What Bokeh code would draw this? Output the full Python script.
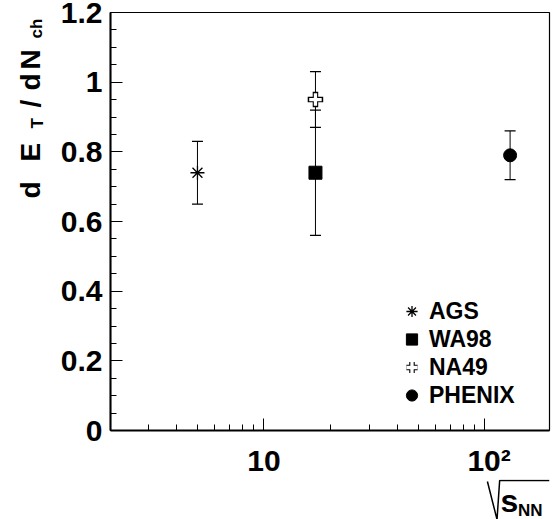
import numpy as np
from bokeh.plotting import figure
from bokeh.layouts import row, column
from bokeh.models import (ColumnDataSource, Whisker, TeeHead, Range1d, FixedTicker,
                          NumeralTickFormatter, Legend, LegendItem)
from bokeh.core.properties import value
from bokeh.embed import file_html
from bokeh.resources import INLINE

# ---- data ----
experiments = ["AGS", "WA98", "NA49", "PHENIX"]
sqrt_snn = [5.0, 17.1, 17.1, 130.0]
et_per_nch = [0.74, 0.74, 0.95, 0.79]
et_err = [0.09, 0.18, 0.08, 0.07]

x_major_ticks = [10, 100]
x_minor_ticks = [3, 4, 5, 6, 7, 8, 9, 20, 30, 40, 50, 60, 70, 80, 90]
x_tick_labels = {10: "10", 100: "\u00a010\u00b2"}
y_major_ticks = [0, 0.2, 0.4, 0.6, 0.8, 1.0, 1.2]
y_minor_ticks = [0.05, 0.1, 0.15, 0.25, 0.3, 0.35, 0.45, 0.5, 0.55, 0.65, 0.7, 0.75,
                 0.85, 0.9, 0.95, 1.05, 1.1, 1.15]

FONT = "Liberation Sans"
W, H = 552, 519
LEFT_W = 50        # width of the y-title strip
MAIN_H = 479       # height of the main figure
FRAME_BOTTOM = 432
MID = 0.3465       # em offset between alphabetic baseline and box middle

# ---------------- main plot ----------------
p = figure(width=W - LEFT_W, height=MAIN_H, x_axis_type="log",
           x_range=Range1d(2.02, 196), y_range=Range1d(0, 1.2),
           output_backend="svg", toolbar_location=None,
           min_border_left=110 - LEFT_W, min_border_right=3, min_border_top=12,
           min_border_bottom=MAIN_H - FRAME_BOTTOM)
p.background_fill_color = "white"
p.border_fill_color = "white"
p.outline_line_color = "black"
p.outline_line_width = 1.2
p.xgrid.visible = False
p.ygrid.visible = False

for ax in (p.xaxis[0], p.yaxis[0]):
    ax.axis_line_color = "black"
    ax.axis_line_width = 2
    ax.major_tick_in = 12
    ax.major_tick_out = 0
    ax.minor_tick_in = 6
    ax.minor_tick_out = 0
    ax.major_tick_line_color = "black"
    ax.minor_tick_line_color = "black"
    ax.major_tick_line_width = 1
    ax.minor_tick_line_width = 1
    ax.major_label_text_font = FONT
    ax.major_label_text_font_style = "bold"
    ax.major_label_text_font_size = "30px"
    ax.major_label_text_color = "black"

p.xaxis.ticker = FixedTicker(ticks=x_major_ticks, minor_ticks=x_minor_ticks)
p.xaxis.major_label_overrides = x_tick_labels
p.xaxis.major_label_standoff = 13
p.yaxis.ticker = FixedTicker(ticks=y_major_ticks, minor_ticks=y_minor_ticks)
p.yaxis.formatter = NumeralTickFormatter(format="0.[0]")
p.yaxis.major_label_standoff = 8

# error bars
src = ColumnDataSource(dict(
    x=sqrt_snn,
    y=et_per_nch,
    lo=[v - e for v, e in zip(et_per_nch, et_err)],
    up=[v + e for v, e in zip(et_per_nch, et_err)],
))
whisk = Whisker(source=src, base="x", lower="lo", upper="up", dimension="height",
                line_color="black", line_width=1,
                lower_head=TeeHead(size=11, line_color="black", line_width=1.2),
                upper_head=TeeHead(size=11, line_color="black", line_width=1.2))
p.add_layout(whisk)

# markers
r_ags = p.scatter(x=[sqrt_snn[0]], y=[et_per_nch[0]], marker="asterisk", size=14,
                  line_color="black", line_width=1.3)
r_wa = p.scatter(x=[sqrt_snn[1]], y=[et_per_nch[1]], marker="square", size=13,
                 fill_color="black", line_color="black")
r_na_o = p.scatter(x=[sqrt_snn[2]], y=[et_per_nch[2]], marker="cross", size=15.5,
                   line_color="black", line_width=5.5)
r_na_i = p.scatter(x=[sqrt_snn[2]], y=[et_per_nch[2]], marker="cross", size=12.5,
                   line_color="white", line_width=3.3)
r_ph = p.scatter(x=[sqrt_snn[3]], y=[et_per_nch[3]], marker="circle", size=13,
                 fill_color="black", line_color="black")

legend = Legend(items=[
    LegendItem(label=experiments[0], renderers=[r_ags]),
    LegendItem(label=experiments[1], renderers=[r_wa]),
    LegendItem(label=experiments[2], renderers=[r_na_o, r_na_i]),
    LegendItem(label=experiments[3], renderers=[r_ph]),
], location=(285, 21), glyph_width=33, glyph_height=28, label_height=28,
    spacing=0, padding=0, margin=0, label_standoff=1,
    border_line_alpha=0, background_fill_alpha=0,
    label_text_font=FONT, label_text_font_style="bold", label_text_font_size="23px",
    label_text_color="black")
p.add_layout(legend)


# ---------------- title strips (plain figures used as canvases) ----------------
def strip(width, height, x0, y0):
    f = figure(width=width, height=height, output_backend="svg", toolbar_location=None,
               x_range=Range1d(x0, x0 + width), y_range=Range1d(-(y0 + height), -y0),
               x_axis_location=None, y_axis_location=None,
               min_border=0, min_border_left=0, min_border_right=0,
               min_border_top=0, min_border_bottom=0)
    f.outline_line_color = None
    f.xgrid.visible = False
    f.ygrid.visible = False
    f.background_fill_color = "white"
    f.border_fill_color = "white"
    return f


def put(f, texts, xs, ys, size, angle=0.0):
    f.text(x=xs, y=ys, text=texts, angle=angle, text_align="left", text_baseline="middle",
           text_font=value(FONT), text_font_style="bold", text_font_size=f"{size}px",
           text_color="black")


# y title: d E_T / d N_ch  (rotated, reading upwards)
yt = strip(LEFT_W, H, 0, 0)
ang = np.pi / 2
BIG, SUB = 28, 17
y_parts = ["d", "E", "/", "d", "N"]
y_parts_pos = [198, 161, 107, 90, 69]      # start (bottom end) of each piece
put(yt, y_parts, [39.5 - MID * BIG] * len(y_parts), [-v for v in y_parts_pos], BIG, ang)
y_subs = ["T", "ch"]
y_subs_pos = [128, 38]
put(yt, y_subs, [43 - MID * SUB, 42 - MID * SUB], [-v for v in y_subs_pos], SUB, ang)

# x title: sqrt(s_NN)
xt = strip(W - LEFT_W, H - MAIN_H, LEFT_W, MAIN_H)
put(xt, ["s"], [496], [-(512 - MID * 32)], 32)
put(xt, ["NN"], [516], [-(516 - MID * 17)], 17)
xt.line(x=[481, 492, 495, 552], y=[-481, -519, -480, -480], line_color="black",
        line_width=1.5)

layout = row(yt, column(p, xt, spacing=0), spacing=0)
open("out.html", "w").write(file_html(layout, INLINE))
